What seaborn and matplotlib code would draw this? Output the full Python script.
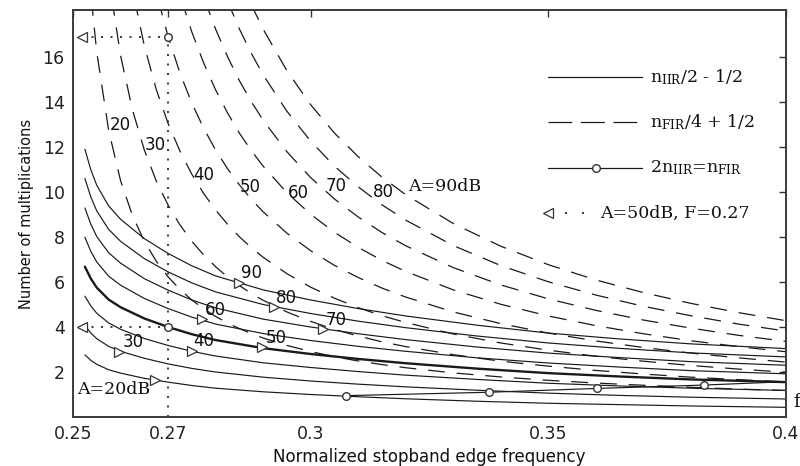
import numpy as np
import pandas as pd
import matplotlib
matplotlib.use("Agg")
import matplotlib.pyplot as plt
import seaborn as sns

# ---------------- data ----------------
ATTEN = [20, 30, 40, 50, 60, 70, 80, 90]

# IIR curves: n_IIR/2 - 1/2
IIR_F = [0.2525, 0.25375, 0.255, 0.2575, 0.26, 0.265, 0.27, 0.275, 0.28, 0.29,
         0.30, 0.31, 0.32, 0.335, 0.35, 0.365, 0.38, 0.40]
IIR_20 = [2.76, 2.52, 2.34, 2.10, 1.95, 1.72, 1.55, 1.40, 1.28, 1.12, 1.00, 0.90, 0.81, 0.70, 0.61, 0.55, 0.49, 0.43]
IIR_30 = [4.07, 3.73, 3.48, 3.14, 2.92, 2.61, 2.36, 2.16, 2.00, 1.77, 1.60, 1.46, 1.34, 1.19, 1.06, 0.96, 0.88, 0.80]
IIR_40 = [5.37, 4.94, 4.61, 4.18, 3.90, 3.49, 3.18, 2.92, 2.71, 2.41, 2.20, 2.02, 1.86, 1.67, 1.50, 1.38, 1.28, 1.18]
IIR_50 = [6.68, 6.15, 5.75, 5.22, 4.88, 4.38, 4.00, 3.68, 3.42, 3.06, 2.80, 2.58, 2.39, 2.15, 1.95, 1.80, 1.67, 1.55]
IIR_60 = [7.99, 7.36, 6.89, 6.26, 5.86, 5.27, 4.82, 4.44, 4.13, 3.71, 3.40, 3.14, 2.92, 2.63, 2.40, 2.22, 2.06, 1.92]
IIR_70 = [9.29, 8.57, 8.02, 7.30, 6.84, 6.15, 5.64, 5.20, 4.85, 4.35, 4.00, 3.70, 3.44, 3.11, 2.84, 2.64, 2.46, 2.30]
IIR_80 = [10.60, 9.78, 9.16, 8.34, 7.81, 7.04, 6.45, 5.96, 5.56, 5.00, 4.60, 4.26, 3.97, 3.60, 3.29, 3.05, 2.85, 2.67]
IIR_90 = [11.90, 10.99, 10.30, 9.38, 8.79, 7.93, 7.27, 6.72, 6.27, 5.65, 5.20, 4.82, 4.49, 4.08, 3.73, 3.47, 3.25, 3.04]

# FIR curves: n_FIR/4 + 1/2
N = None
FIR_F = [0.25375, 0.255, 0.2575, 0.26, 0.2625, 0.265, 0.2675, 0.27, 0.2725, 0.275,
         0.2775, 0.28, 0.2825, 0.285, 0.2875, 0.29, 0.295, 0.30, 0.305, 0.31,
         0.315, 0.32, 0.33, 0.34, 0.35, 0.36, 0.37, 0.38, 0.39, 0.40]
FIR_20 = [18.79, 16.21, 12.74, 10.51, 8.96, 7.81, 6.93, 6.23, 5.67, 5.20, 4.81, 4.47, 4.18, 3.93, 3.71,
          3.51, 3.18, 2.91, 2.68, 2.49, 2.33, 2.19, 1.96, 1.78, 1.63, 1.51, 1.41, 1.32, 1.24, 1.18]
FIR_30 = [N, N, 19.54, 16.07, 13.66, 11.87, 10.50, 9.42, 8.54, 7.81, 7.20, 6.68, 6.23, 5.84, 5.49,
          5.19, 4.67, 4.25, 3.89, 3.60, 3.34, 3.13, 2.77, 2.48, 2.26, 2.07, 1.91, 1.77, 1.66, 1.56]
FIR_40 = [N, N, N, N, 19.02, 16.50, 14.57, 13.05, 11.82, 10.79, 9.93, 9.20, 8.57, 8.01, 7.53,
          7.10, 6.37, 5.77, 5.28, 4.86, 4.50, 4.20, 3.69, 3.29, 2.97, 2.70, 2.48, 2.29, 2.13, 1.99]
FIR_50 = [N, N, N, N, N, N, 18.89, 16.91, 15.29, 13.95, 12.83, 11.87, 11.04, 10.32, 9.68,
          9.12, 8.17, 7.39, 6.74, 6.20, 5.73, 5.33, 4.67, 4.15, 3.73, 3.38, 3.09, 2.84, 2.63, 2.44]
FIR_60 = [N, N, N, N, N, N, N, N, 18.77, 17.11, 15.73, 14.54, 13.52, 12.62, 11.84,
          11.15, 9.97, 9.01, 8.21, 7.54, 6.96, 6.47, 5.65, 5.01, 4.49, 4.06, 3.70, 3.39, 3.13, 2.90]
FIR_70 = [N, N, N, N, N, N, N, N, N, N, 18.65, 17.24, 16.02, 14.95, 14.02,
          13.19, 11.79, 10.64, 9.69, 8.89, 8.20, 7.61, 6.64, 5.87, 5.25, 4.74, 4.31, 3.95, 3.63, 3.36]
FIR_80 = [N, N, N, N, N, N, N, N, N, N, N, N, 18.49, 17.25, 16.17,
          15.21, 13.59, 12.26, 11.15, 10.23, 9.43, 8.75, 7.62, 6.73, 6.01, 5.42, 4.92, 4.50, 4.13, 3.82]
FIR_90 = [N, N, N, N, N, N, N, N, N, N, N, N, N, N, 18.33,
          17.24, 15.39, 13.88, 12.62, 11.57, 10.66, 9.88, 8.60, 7.59, 6.77, 6.09, 5.53, 5.05, 4.64, 4.28]

# 2 n_IIR = n_FIR line
EQ_F = [0.3075, 0.3376, 0.3603, 0.3828, 0.40]
EQ_Y = [0.95, 1.10, 1.27, 1.42, 1.57]

# triangle markers on IIR curves and their labels
TRI_F = [0.2673, 0.2596, 0.2750, 0.2898, 0.2772, 0.3025, 0.2923, 0.2849]
TRI_Y = [1.64, 2.90, 2.95, 3.10, 4.34, 3.90, 4.87, 5.97]
IIR_LAB = ["A=20dB", "30", "40", "50", "60", "70", "80", "90"]
IIR_LAB_F = [0.2508, 0.2626, 0.2776, 0.2928, 0.2800, 0.3053, 0.2949, 0.2875]
IIR_LAB_Y = [1.23, 3.35, 3.39, 3.50, 4.76, 4.31, 5.27, 6.41]

# FIR labels
FIR_LAB = ["20", "30", "40", "50", "60", "70", "80", "A=90dB"]
FIR_LAB_F = [0.2600, 0.2674, 0.2776, 0.2872, 0.2975, 0.3053, 0.3153, 0.3204]
FIR_LAB_Y = [12.98, 12.09, 10.76, 10.24, 9.97, 10.27, 10.01, 10.24]

# A=50dB, F=0.27 example
EX_F = 0.27
EX_IIR = 4.0
EX_FIR = 16.9

X_TICKS = [0.25, 0.27, 0.3, 0.35, 0.4]
X_TICKLABELS = ["0.25", "0.27", "0.3", "0.35", "0.4"]
Y_TICKS = [2, 4, 6, 8, 10, 12, 14, 16]

LEGEND_TEXT = [r"n$_\mathrm{IIR}$/2 - 1/2", r"n$_\mathrm{FIR}$/4 + 1/2",
               r"2n$_\mathrm{IIR}$=n$_\mathrm{FIR}$", "A=50dB, F=0.27"]

# ---------------- figure ----------------
sns.set_theme(style="white")
plt.rcParams["font.family"] = ["DejaVu Sans"]
plt.rcParams["mathtext.fontset"] = "dejavuserif"

fig = plt.figure(figsize=(8.0, 4.66), dpi=100)
ax = fig.add_axes([0.09125, 0.10515, 0.89125, 0.8734])

LC = "#1a1a1a"
DASH = (0, (13.5, 9.5))

iir_sets = [IIR_20, IIR_30, IIR_40, IIR_50, IIR_60, IIR_70, IIR_80, IIR_90]
for a, vals in zip(ATTEN, iir_sets):
    df = pd.DataFrame({"f": IIR_F, "m": vals})
    sns.lineplot(data=df, x="f", y="m", ax=ax, color=LC,
                 lw=1.7 if a == 50 else 0.85, estimator=None, sort=False)

fir_sets = [FIR_20, FIR_30, FIR_40, FIR_50, FIR_60, FIR_70, FIR_80, FIR_90]
for a, vals in zip(ATTEN, fir_sets):
    df = pd.DataFrame({"f": FIR_F, "m": np.array(vals, dtype=float)}).dropna()
    sns.lineplot(data=df, x="f", y="m", ax=ax, color=LC, lw=0.9,
                 linestyle=DASH, estimator=None, sort=False)

df_eq = pd.DataFrame({"f": EQ_F, "m": EQ_Y})
sns.lineplot(data=df_eq, x="f", y="m", ax=ax, color=LC, lw=0.85,
             estimator=None, sort=False)
ax.plot(EQ_F[:-1], EQ_Y[:-1], ls="none", marker="o", ms=5.5, mfc="white",
        mec="#333333", mew=1.0)

# triangles on IIR curves
ax.plot(TRI_F, TRI_Y, ls="none", marker=">", ms=7, mfc="white", mec="#333333", mew=0.9)

# example: A=50dB, F=0.27
DOT = (0, (1.2, 4.5))
ax.plot([0.2518, EX_F], [EX_FIR, EX_FIR], color=LC, lw=1.2, ls=DOT)
ax.plot([0.2518, EX_F], [EX_IIR, EX_IIR], color=LC, lw=1.2, ls=DOT)
ax.plot([EX_F, EX_F], [0, EX_FIR], color=LC, lw=1.2, ls=DOT)
ax.plot([0.2518, 0.2518], [EX_FIR, EX_IIR], ls="none", marker="<", ms=7,
        mfc="white", mec="#333333", mew=0.9)
ax.plot([EX_F, EX_F], [EX_FIR, EX_IIR], ls="none", marker="o", ms=5.5,
        mfc="white", mec="#333333", mew=1.0)

# labels
for t, fx, fy in zip(IIR_LAB, IIR_LAB_F, IIR_LAB_Y):
    if t.startswith("A="):
        ax.text(fx, fy, t, family="DejaVu Serif", fontsize=12.5, ha="left",
                va="center", color="#111111")
    else:
        ax.text(fx, fy, t, fontsize=12, ha="center", va="center", color="#111111")
for t, fx, fy in zip(FIR_LAB, FIR_LAB_F, FIR_LAB_Y):
    if t.startswith("A="):
        ax.text(fx, fy, t, family="DejaVu Serif", fontsize=12.5, ha="left",
                va="center", color="#111111")
    else:
        ax.text(fx, fy, t, fontsize=12, ha="center", va="center", color="#111111")

ax.text(0.4015, 0.67, "f", family="DejaVu Serif", fontsize=13, ha="left",
        va="center", clip_on=False, color="#111111")

# manual legend (axes coordinates)
T = ax.transAxes
lx0, lx1, tx = 0.666, 0.798, 0.809
rows = [0.835, 0.725, 0.612, 0.501]
ax.plot([lx0, lx1], [rows[0]] * 2, color=LC, lw=0.9, transform=T, clip_on=False)
ax.plot([lx0, lx1], [rows[1]] * 2, color=LC, lw=0.9, ls=(0, (19, 7)), transform=T, clip_on=False)
ax.plot([lx0, lx1], [rows[2]] * 2, color=LC, lw=0.9, transform=T, clip_on=False)
ax.plot([0.734], [rows[2]], marker="o", ms=5.5, mfc="white", mec="#333333", mew=1.0,
        transform=T, clip_on=False)
ax.plot([0.666, 0.72], [rows[3]] * 2, color=LC, lw=1.2, ls=(0, (1.2, 9)), transform=T, clip_on=False)
ax.plot([0.666], [rows[3]], marker="<", ms=7, mfc="white", mec="#333333", mew=0.9,
        transform=T, clip_on=False)
lt = dict(family="DejaVu Serif", fontsize=12.5, va="center", ha="left",
          transform=T, color="#111111")
ax.text(tx, rows[0], LEGEND_TEXT[0], **lt)
ax.text(tx, rows[1], LEGEND_TEXT[1], **lt)
ax.text(tx, rows[2], LEGEND_TEXT[2], **lt)
ax.text(0.739, rows[3], LEGEND_TEXT[3], **lt)

# axes
ax.set_xlim(0.25, 0.4)
ax.set_ylim(0, 18.09)
ax.set_xticks(X_TICKS)
ax.set_xticklabels(X_TICKLABELS)
ax.set_yticks(Y_TICKS)
ax.tick_params(direction="in", length=5, width=1.0, top=True, right=True,
               labelsize=12.5, pad=6, color="#333333", labelcolor="#222222")
for s in ax.spines.values():
    s.set_color("#3a3a3a")
    s.set_linewidth(1.4)
ax.set_xlabel("Normalized stopband edge frequency", fontsize=12, labelpad=3, color="#111111")
ax.set_ylabel("Number of multiplications", fontsize=10.5, labelpad=6, color="#111111")
ax.grid(False)

fig.savefig("out.png", dpi=100)
